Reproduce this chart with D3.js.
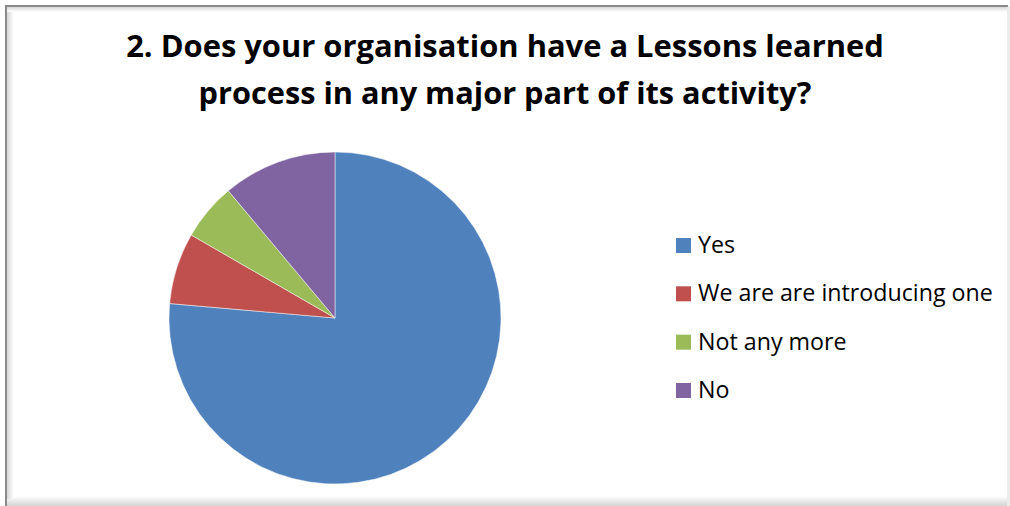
<!DOCTYPE html>
<html>
<head>
<meta charset="utf-8">
<script src="https://cdn.jsdelivr.net/npm/d3@7"></script>
<style>
  body { margin: 0; background: #fff; }
  svg { display: block; }
</style>
</head>
<body>
<svg width="1010" height="506"></svg>
<script>
// answers to question 2
const categories = ['Yes', 'We are are introducing one', 'Not any more', 'No'];
const counts = [55, 5, 4, 8];
const colors = ['#4f81bd', '#c0504d', '#9bbb59', '#8064a2'];
const titleLines = ['2. Does your organisation have a Lessons learned',
                    'process in any major part of its activity?'];

const svg = d3.select('svg');
const font = 'Open Sans, Liberation Sans, sans-serif';

// frame: dark top/left edge, faint right/bottom shadow
const defs = svg.append('defs');
const gl = defs.append('linearGradient').attr('id', 'sl').attr('x1', 0).attr('x2', 1);
gl.append('stop').attr('offset', 0).attr('stop-color', '#d8d8d8');
gl.append('stop').attr('offset', 1).attr('stop-color', '#fff');
const gt = defs.append('linearGradient').attr('id', 'st').attr('x1', 0).attr('x2', 0).attr('y1', 0).attr('y2', 1);
gt.append('stop').attr('offset', 0).attr('stop-color', '#d8d8d8');
gt.append('stop').attr('offset', 1).attr('stop-color', '#fff');
const gb = defs.append('linearGradient').attr('id', 'sb').attr('x1', 0).attr('x2', 0).attr('y1', 0).attr('y2', 1);
gb.append('stop').attr('offset', 0).attr('stop-color', '#fff');
gb.append('stop').attr('offset', 1).attr('stop-color', '#d4d4d4');

svg.append('rect').attr('x', 6).attr('y', 496).attr('width', 1004).attr('height', 10).attr('fill', 'url(#sb)');
svg.append('rect').attr('x', 1007).attr('y', 6).attr('width', 3).attr('height', 500).attr('fill', '#ececec');
svg.append('rect').attr('x', 7).attr('y', 7).attr('width', 7).attr('height', 492).attr('fill', 'url(#sl)');
svg.append('rect').attr('x', 7).attr('y', 7).attr('width', 1000).attr('height', 5).attr('fill', 'url(#st)');
svg.append('line').attr('x1', 5).attr('y1', 6).attr('x2', 1008).attr('y2', 6)
    .attr('stroke', '#8a8a8a').attr('stroke-width', 2);
svg.append('line').attr('x1', 6).attr('y1', 5).attr('x2', 6).attr('y2', 506)
    .attr('stroke', '#8a8a8a').attr('stroke-width', 2);

// fit text to a target width
function fit(sel, w) {
    let len = sel.node().getComputedTextLength();
    let fs = parseFloat(sel.attr('font-size'));
    sel.attr('font-size', fs * w / len);
    return fs * w / len;
}

const titleW = [758, 613];
const titleY = [57, 104];
titleLines.forEach(function (t, i) {
    let tx = svg.append('text')
        .attr('x', 505).attr('y', titleY[i])
        .attr('text-anchor', 'middle')
        .attr('font-family', font).attr('font-weight', 'bold')
        .attr('font-size', 30).attr('fill', '#000')
        .text(t);
    fit(tx, titleW[i]);
});

// pie
const cx = 335, cy = 318, r = 166;
const pie = d3.pie().sort(null).value(d => d);
const arc = d3.arc().innerRadius(0).outerRadius(r);
const color = d3.scaleOrdinal().domain(categories).range(colors);

svg.append('g')
    .attr('transform', 'translate(' + cx + ',' + cy + ')')
    .selectAll('path')
    .data(pie(counts))
    .enter().append('path')
    .attr('d', arc)
    .attr('fill', (d, i) => color(categories[i]))
    .attr('stroke', '#fff')
    .attr('stroke-opacity', 0.6)
    .attr('stroke-width', 0.8);

// legend
const ly = d3.scalePoint().domain(categories).range([245, 390]);
const leg = svg.append('g');
const labels = [];
categories.forEach(function (c) {
    leg.append('rect')
        .attr('x', 676).attr('y', ly(c) - 7)
        .attr('width', 15).attr('height', 15)
        .attr('fill', color(c));
    labels.push(leg.append('text')
        .attr('x', 698).attr('y', ly(c) + 8)
        .attr('font-family', font).attr('font-size', 21)
        .attr('fill', '#000')
        .text(c));
});
const lfs = fit(labels[1], 295);
labels.forEach(t => t.attr('font-size', lfs));
</script>
</body>
</html>
